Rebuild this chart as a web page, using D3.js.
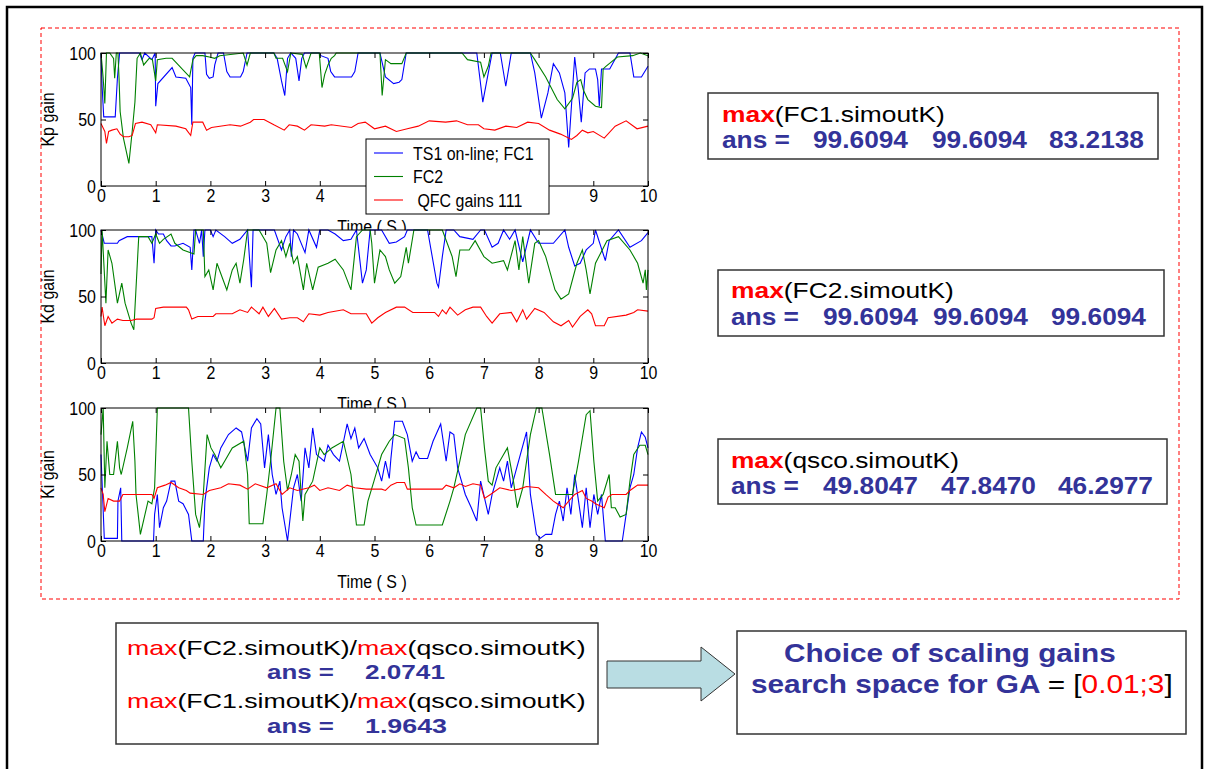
<!DOCTYPE html>
<html>
<head>
<meta charset="utf-8">
<script src="https://cdn.jsdelivr.net/npm/d3@7"></script>
<style>
  body { margin: 0; background: #fff; }
  svg { display: block; }
  text { font-family: "Liberation Sans", Arial, Helvetica, sans-serif; white-space: pre; }
</style>
</head>
<body>
<script>
// ---- data: [time (s), gain] ----
var kpFC1 = [[0,100],[0.02,75],[0.05,52],[0.26,52],[0.3,81],[0.34,100],[0.7,100],[0.75,95],[0.8,100],[0.93,95],[0.99,100],[1.0,60],[1.04,77],[1.3,89],[1.37,82],[1.55,81],[1.64,74],[1.66,46],[1.68,96],[1.72,100],[1.9,100],[1.93,84],[1.98,81],[2.05,82],[2.08,91],[2.14,100],[2.24,100],[2.3,86],[2.36,82],[2.55,82],[2.6,86],[2.67,100],[3.16,100],[3.22,96],[3.3,79],[3.36,68],[3.41,96],[3.47,100],[3.56,96],[3.62,79],[3.67,96],[3.72,100],[3.99,100],[4.02,98],[4.15,96],[4.2,86],[4.27,82],[4.58,82],[4.64,86],[4.7,100],[5.1,100],[5.2,82],[5.35,77],[5.45,78],[5.5,80],[5.58,100],[6.87,100],[6.98,63],[7.08,85],[7.15,100],[7.3,100],[7.4,75],[7.5,100],[7.85,100],[7.93,85],[8.05,51],[8.17,70],[8.27,92],[8.38,85],[8.48,70],[8.55,29],[8.66,97],[8.72,75],[8.78,48],[8.85,85],[8.93,88],[9.04,88],[9.08,80],[9.11,60],[9.15,88],[9.3,88],[9.46,100],[9.67,100],[9.74,82],[9.88,82],[10,90]];
var kpFC2 = [[0,100],[0.04,81],[0.07,62],[0.1,100],[0.16,100],[0.23,96],[0.25,81],[0.28,100],[0.31,100],[0.33,81],[0.35,56],[0.41,36],[0.51,17],[0.57,41],[0.62,63],[0.66,96],[0.72,100],[0.78,91],[0.88,96],[0.94,95],[1.0,79],[1.03,95],[1.19,96],[1.3,96],[1.37,93],[1.62,82],[1.68,95],[1.74,98],[1.86,98],[1.98,97],[2.08,96],[2.17,98],[2.6,100],[2.67,91],[2.73,100],[3.16,100],[3.2,96],[3.32,96],[3.41,86],[3.47,100],[3.68,99],[3.75,89],[3.84,100],[3.99,100],[4.04,74],[4.09,84],[4.15,91],[4.21,96],[4.27,98],[4.3,100],[5.1,100],[5.14,68],[5.2,95],[5.3,92],[5.5,92],[5.58,100],[6.6,100],[6.7,95],[6.94,93],[7.0,82],[7.08,90],[7.13,100],[7.85,100],[7.93,95],[8.13,82],[8.34,65],[8.48,58],[8.62,66],[8.7,78],[8.77,80],[8.82,72],[8.9,65],[9.04,60],[9.15,59],[9.18,88],[9.23,90],[9.44,97],[9.72,98],[9.86,100],[10,98]];
var kpQFC = [[0,47],[0.07,41],[0.1,32],[0.14,41],[0.2,42],[0.29,43],[0.35,39],[0.41,37],[0.51,37],[0.57,38],[0.63,47],[0.75,48],[0.91,46],[1.0,40],[1.03,46],[1.37,45],[1.55,43],[1.64,38],[1.68,48],[1.86,48],[1.93,42],[2.02,44],[2.36,46],[2.55,45],[2.73,48],[2.79,50],[2.98,50],[3.16,46],[3.35,42],[3.44,46],[3.59,45],[3.72,42],[3.84,46],[4.09,45],[4.21,46],[4.58,44],[4.7,47],[4.83,48],[5.0,43],[5.2,45],[5.4,41],[5.6,43],[5.8,45],[6.0,49],[6.3,48],[6.5,49],[6.7,46],[6.9,46],[7.0,43],[7.2,42],[7.4,45],[7.6,44],[7.8,48],[8.0,47],[8.2,42],[8.4,39],[8.6,35],[8.7,38],[8.8,42],[8.9,40],[9.0,41],[9.2,36],[9.4,45],[9.6,49],[9.8,43],[10,45]];

var kdFC1 = [[0,100],[0.06,90],[0.3,90],[0.33,92],[0.48,95],[0.93,95],[0.97,75],[1.0,100],[1.05,97],[1.14,97],[1.2,92],[1.28,88],[1.35,88],[1.5,90],[1.63,87],[1.66,70],[1.7,100],[1.73,100],[1.8,90],[1.84,100],[1.87,80],[1.9,100],[2.0,100],[2.05,95],[2.1,100],[2.26,95],[2.4,90],[2.54,93],[2.68,100],[2.75,57],[2.78,100],[3.17,100],[3.3,85],[3.38,95],[3.45,100],[3.48,80],[3.52,100],[3.59,97],[3.73,83],[3.8,100],[3.94,87],[4.0,100],[4.15,100],[4.28,97],[4.43,92],[4.57,93],[4.67,100],[4.78,60],[4.85,70],[4.92,100],[5.13,100],[5.27,90],[5.4,91],[5.55,95],[5.6,100],[5.97,100],[6.14,60],[6.17,57],[6.24,80],[6.31,100],[6.45,100],[6.56,95],[6.8,93],[6.94,100],[7.01,100],[7.15,87],[7.26,90],[7.36,100],[7.47,93],[7.57,100],[7.71,76],[7.85,100],[8.0,90],[8.27,90],[8.48,100],[8.55,87],[8.66,73],[8.76,75],[8.87,85],[9.0,90],[9.04,100],[9.22,77],[9.29,92],[9.46,100],[9.67,87],[9.88,92],[10,98]];
var kdFC2 = [[0,67],[0.02,100],[0.09,45],[0.13,85],[0.2,75],[0.3,45],[0.38,60],[0.44,45],[0.55,30],[0.6,25],[0.69,95],[0.86,95],[0.93,90],[1.0,97],[1.07,90],[1.14,93],[1.28,97],[1.35,90],[1.5,85],[1.7,82],[1.73,100],[1.87,100],[1.9,65],[1.97,70],[2.05,55],[2.12,75],[2.3,55],[2.4,70],[2.47,75],[2.54,60],[2.61,78],[2.68,100],[2.89,100],[3.03,90],[3.1,68],[3.2,85],[3.3,92],[3.38,80],[3.45,90],[3.52,75],[3.59,80],[3.7,55],[3.76,75],[3.87,55],[3.97,72],[4.15,75],[4.28,78],[4.43,70],[4.57,55],[4.67,95],[4.78,100],[4.92,100],[4.95,90],[5.0,60],[5.1,85],[5.2,80],[5.27,70],[5.37,60],[5.48,65],[5.58,87],[5.62,75],[5.72,100],[6.24,100],[6.42,80],[6.49,65],[6.56,85],[6.73,85],[6.84,92],[7.0,80],[7.15,75],[7.36,77],[7.43,70],[7.57,92],[7.64,70],[7.71,95],[7.82,60],[7.93,90],[8.0,92],[8.13,80],[8.3,55],[8.41,48],[8.55,52],[8.7,75],[8.8,85],[8.87,70],[8.94,52],[9.04,75],[9.25,92],[9.46,95],[9.67,85],[9.81,75],[9.91,60],[9.95,70],[9.97,55],[10,70]];
var kdQFC = [[0,35],[0.02,42],[0.07,28],[0.13,35],[0.2,30],[0.3,33],[0.4,32],[0.55,32],[0.65,33],[0.93,33],[0.97,34],[1.0,41],[1.14,42],[1.56,42],[1.6,40],[1.66,33],[1.77,35],[2.05,35],[2.1,37],[2.4,37],[2.54,40],[2.68,38],[2.75,42],[2.89,37],[2.96,42],[3.06,35],[3.17,41],[3.3,33],[3.45,34],[3.59,34],[3.7,31],[3.8,37],[4.0,36],[4.15,38],[4.43,40],[4.57,37],[4.85,37],[4.95,30],[5.06,34],[5.2,38],[5.4,42],[5.55,42],[5.7,38],[6.1,38],[6.17,35],[6.24,40],[6.31,37],[6.38,42],[6.52,36],[6.66,40],[6.8,42],[6.94,42],[7.05,35],[7.15,30],[7.29,37],[7.5,38],[7.6,31],[7.71,40],[7.78,33],[7.93,41],[8.1,38],[8.27,31],[8.41,28],[8.55,32],[8.62,27],[8.76,35],[8.9,40],[8.97,37],[9.04,28],[9.2,28],[9.27,34],[9.6,36],[9.74,38],[9.81,40],[10,39]];

var kiFC1 = [[0,65],[0.06,2],[0.3,2],[0.31,30],[0.36,40],[0.38,0],[0.96,0],[0.98,20],[1.03,35],[1.07,10],[1.14,25],[1.2,30],[1.28,45],[1.35,45],[1.42,30],[1.5,28],[1.6,20],[1.66,0],[1.87,0],[1.9,30],[1.98,55],[2.05,65],[2.12,60],[2.19,70],[2.33,80],[2.47,85],[2.57,82],[2.68,60],[2.75,85],[2.85,92],[2.92,88],[2.99,55],[3.06,80],[3.13,50],[3.2,35],[3.27,45],[3.31,25],[3.41,0],[3.52,40],[3.59,50],[3.66,30],[3.73,70],[3.8,55],[3.87,85],[3.94,65],[4.08,60],[4.15,72],[4.25,65],[4.36,60],[4.5,88],[4.57,77],[4.64,85],[4.71,70],[4.81,77],[4.92,65],[5.06,55],[5.13,45],[5.2,60],[5.27,47],[5.3,62],[5.37,90],[5.51,90],[5.6,80],[5.69,60],[5.76,67],[5.82,62],[5.97,62],[6.07,75],[6.21,88],[6.31,60],[6.38,82],[6.45,80],[6.52,55],[6.59,45],[6.66,35],[6.77,25],[6.87,15],[6.94,45],[7.08,20],[7.15,35],[7.22,45],[7.29,55],[7.36,45],[7.43,60],[7.5,40],[7.6,55],[7.78,82],[7.85,35],[7.96,5],[8.03,2],[8.13,5],[8.24,5],[8.31,20],[8.38,30],[8.45,15],[8.52,40],[8.59,20],[8.66,50],[8.73,30],[8.8,10],[8.87,40],[8.94,10],[9.01,35],[9.08,20],[9.15,35],[9.22,0],[9.53,0],[9.6,20],[9.67,40],[9.74,50],[9.81,70],[9.88,82],[9.95,78],[10,70]];
var kiFC2 = [[0,80],[0.04,100],[0.07,40],[0.11,75],[0.16,50],[0.23,50],[0.3,75],[0.34,55],[0.37,50],[0.48,70],[0.58,90],[0.62,60],[0.64,35],[0.72,5],[0.86,30],[0.93,28],[0.98,40],[1.03,100],[1.6,100],[1.66,60],[1.73,20],[1.8,10],[1.87,35],[1.94,80],[2.01,70],[2.08,65],[2.19,55],[2.26,60],[2.4,70],[2.61,75],[2.68,50],[2.71,13],[2.96,13],[3.03,35],[3.1,60],[3.2,100],[3.27,100],[3.34,60],[3.41,38],[3.48,50],[3.55,65],[3.62,60],[3.69,15],[3.73,35],[3.87,45],[4.0,70],[4.08,65],[4.22,70],[4.43,75],[4.57,50],[4.67,12],[4.81,12],[4.88,30],[4.99,45],[5.06,55],[5.13,65],[5.27,75],[5.37,80],[5.55,77],[5.62,55],[5.69,25],[5.76,12],[6.24,12],[6.38,30],[6.45,40],[6.56,60],[6.66,80],[6.87,100],[6.94,100],[7.01,70],[7.08,45],[7.15,42],[7.22,55],[7.36,65],[7.43,70],[7.54,45],[7.61,25],[7.71,40],[7.85,80],[7.96,100],[8.06,100],[8.2,65],[8.31,35],[8.62,35],[8.73,60],[8.87,95],[8.94,98],[9.01,60],[9.08,30],[9.18,35],[9.29,50],[9.33,25],[9.4,25],[9.49,18],[9.6,20],[9.67,45],[9.74,65],[9.85,72],[9.95,72],[10,65]];
var kiQFC = [[0,40],[0.04,35],[0.07,22],[0.13,32],[0.23,30],[0.34,30],[0.4,35],[0.93,35],[0.97,32],[1.03,40],[1.17,42],[1.28,44],[1.42,40],[1.56,38],[1.63,36],[1.87,35],[1.98,38],[2.19,40],[2.33,43],[2.54,42],[2.68,39],[2.82,43],[3.03,40],[3.2,43],[3.31,35],[3.45,40],[3.59,38],[3.8,40],[3.9,42],[4.0,38],[4.15,40],[4.36,38],[4.5,42],[4.64,40],[4.85,39],[5.13,39],[5.2,38],[5.3,42],[5.41,44],[5.55,44],[5.6,39],[6.24,39],[6.31,42],[6.45,40],[6.56,43],[6.66,41],[6.8,43],[6.94,42],[7.01,32],[7.12,35],[7.29,40],[7.5,38],[7.64,39],[7.78,41],[8.0,40],[8.13,35],[8.27,30],[8.34,28],[8.45,25],[8.55,30],[8.66,35],[8.8,38],[8.87,32],[8.97,30],[9.04,28],[9.2,25],[9.27,33],[9.34,35],[9.6,35],[9.67,38],[9.81,42],[10,42]];

var xTicks = [0,1,2,3,4,5,6,7,8,9,10];
var yTicks = [0,50,100];
var legendNames = ["TS1 on-line; FC1", "FC2", " QFC gains 111"];
var seriesColors = ["#0000ff", "#008000", "#ff0000"];

var panels = [
  {label: "Kp gain", top: 53,  series: [kpFC1, kpFC2, kpQFC], legend: true},
  {label: "Kd gain", top: 230, series: [kdFC1, kdFC2, kdQFC]},
  {label: "Ki gain", top: 408, series: [kiFC1, kiFC2, kiQFC]}
];

var RED = "#ff0000", BLUE = "#333399", BLACK = "#000";
var legendBox = {x: 366, y: 139, w: 183, h: 75};

var svg = d3.select("body").append("svg").attr("width", 1205).attr("height", 769);

// slide frame and dashed group box
svg.append("rect").attr("x", 7).attr("y", 7).attr("width", 1195).attr("height", 800)
  .attr("fill", "none").attr("stroke", "#000").attr("stroke-width", 2.5);
svg.append("rect").attr("x", 41).attr("y", 28).attr("width", 1138).attr("height", 571)
  .attr("fill", "none").attr("stroke", "#ff0000").attr("stroke-width", 1).attr("stroke-dasharray", "4,3");

// matlab-ish text: taller than wide
function mtext(g, x, y, str, anchor, rot) {
  return g.append("text")
    .attr("transform", "translate(" + x + "," + y + ")" + (rot ? "rotate(" + rot + ")" : "") + "scale(0.84,1)")
    .attr("text-anchor", anchor).attr("font-size", 19).attr("fill", "#000").text(str);
}

var plotW = [101, 648], plotH = 133;
var x = d3.scaleLinear().domain([0, 10]).range(plotW);

panels.forEach(function(p, i) {
  var g = svg.append("g");
  var y = d3.scaleLinear().domain([0, 100]).range([p.top + plotH, p.top]);

  g.append("rect").attr("x", plotW[0]).attr("y", p.top)
    .attr("width", plotW[1] - plotW[0]).attr("height", plotH).attr("fill", "#fff");

  var line = d3.line().x(function(d) { return x(d[0]); }).y(function(d) { return y(d[1]); });
  p.series.forEach(function(s, k) {
    g.append("path").datum(s).attr("d", line)
      .attr("fill", "none").attr("stroke", seriesColors[k]).attr("stroke-width", 1.1);
  });

  var styleAxis = function(a) {
    a.select(".domain").remove();
    a.selectAll("line").attr("stroke", "#000");
    a.selectAll("text").attr("font-size", 19).attr("font-family", null).attr("transform", "scale(0.84,1)");
  };
  var bx = g.append("g").attr("transform", "translate(0," + (p.top + plotH) + ")")
    .call(d3.axisBottom(x).tickValues(xTicks).tickSize(-5).tickSizeOuter(0).tickPadding(3).tickFormat(d3.format("d")))
    .call(styleAxis);
  if (p.legend) {
    // tick labels that sit under the legend are hidden in the figure
    bx.selectAll(".tick text").filter(function(d) {
      return x(d) > legendBox.x && x(d) < legendBox.x + legendBox.w;
    }).remove();
  }
  g.append("g").attr("transform", "translate(0," + p.top + ")")
    .call(d3.axisTop(x).tickValues(xTicks).tickSize(-5).tickSizeOuter(0).tickFormat(""))
    .call(styleAxis);
  g.append("g").attr("transform", "translate(" + plotW[0] + ",0)")
    .call(d3.axisLeft(y).tickValues(yTicks).tickSize(-5).tickSizeOuter(0).tickPadding(6))
    .call(styleAxis);
  g.append("g").attr("transform", "translate(" + plotW[1] + ",0)")
    .call(d3.axisRight(y).tickValues(yTicks).tickSize(-5).tickSizeOuter(0).tickFormat(""))
    .call(styleAxis);

  g.append("rect").attr("x", plotW[0]).attr("y", p.top)
    .attr("width", plotW[1] - plotW[0]).attr("height", plotH)
    .attr("fill", "none").attr("stroke", "#000").attr("stroke-width", 1);

  mtext(g, 54, p.top + plotH / 2, p.label, "middle", -90);
  mtext(g, 372, p.top + plotH + 47, "Time ( S )", "middle");
});

// legend of the first panel (drawn over everything)
var lg = svg.append("g");
lg.append("rect").attr("x", legendBox.x).attr("y", legendBox.y).attr("width", legendBox.w).attr("height", legendBox.h)
  .attr("fill", "#fff").attr("stroke", "#000").attr("stroke-width", 1);
legendNames.forEach(function(n, k) {
  var ly = 153 + k * 23.5;
  lg.append("line").attr("x1", 374).attr("x2", 403).attr("y1", ly).attr("y2", ly)
    .attr("stroke", seriesColors[k]).attr("stroke-width", 1.1);
  mtext(lg, 413, ly + 6.5, n, "start");
});

// annotation text, stretched horizontally to the measured width
function rich(x0, y0, w, size, parts) {
  var t = svg.append("text").attr("font-size", size);
  parts.forEach(function(p) {
    t.append("tspan").attr("fill", p[1]).attr("font-weight", p[2] || "normal").text(p[0]);
  });
  var len = t.node().getComputedTextLength();
  t.attr("transform", "translate(" + x0 + "," + y0 + ") scale(" + (w / len) + ",1)");
}
function box(x0, y0, x1, y1) {
  svg.append("rect").attr("x", x0).attr("y", y0).attr("width", x1 - x0).attr("height", y1 - y0)
    .attr("fill", "#fff").attr("stroke", "#333").attr("stroke-width", 1.5);
}

var maxBoxes = [
  {name: "(FC1.simoutK)", vals: ["99.6094", "99.6094", "83.2138"], r: [708, 93, 1158, 159], tx: 722, w1: 223, b1: 122, b2: 148, vx: [813, 932, 1049]},
  {name: "(FC2.simoutK)", vals: ["99.6094", "99.6094", "99.6094"], r: [718, 270, 1164, 336], tx: 731, w1: 223, b1: 298, b2: 325, vx: [823, 933, 1051]},
  {name: "(qsco.simoutK)", vals: ["49.8047", "47.8470", "46.2977"], r: [718, 439, 1167, 504], tx: 731, w1: 228, b1: 468, b2: 494, vx: [823, 941, 1058]}
];
maxBoxes.forEach(function(b) {
  box(b.r[0], b.r[1], b.r[2], b.r[3]);
  rich(b.tx, b.b1, b.w1, 22, [["max", RED, "bold"], [b.name, BLACK]]);
  rich(b.tx, b.b2, 68, 23, [["ans =", BLUE, "bold"]]);
  b.vals.forEach(function(v, k) { rich(b.vx[k], b.b2, 95, 23, [[v, BLUE, "bold"]]); });
});

// ratio box
box(116, 623, 598, 744);
rich(127, 655, 459, 21, [["max", RED], ["(FC2.simoutK)/", BLACK], ["max", RED], ["(qsco.simoutK)", BLACK]]);
rich(267, 679, 67, 20, [["ans =", BLUE, "bold"]]);
rich(365, 679, 80, 20, [["2.0741", BLUE, "bold"]]);
rich(127, 708, 459, 21, [["max", RED], ["(FC1.simoutK)/", BLACK], ["max", RED], ["(qsco.simoutK)", BLACK]]);
rich(267, 733, 67, 20, [["ans =", BLUE, "bold"]]);
rich(365, 733, 82, 20, [["1.9643", BLUE, "bold"]]);

// arrow
svg.append("path")
  .attr("d", "M607,661 L701,661 L701,647 L735,674 L701,701 L701,688 L607,688 Z")
  .attr("fill", "#b9dde3").attr("stroke", "#333").attr("stroke-width", 1);

// conclusion box
box(737, 631, 1186, 734);
rich(784, 662, 332, 26, [["Choice of scaling gains", BLUE, "bold"]]);
rich(751, 693, 422, 26, [["search space for GA ", BLUE, "bold"], ["= [", BLACK], ["0.01;3", RED], ["]", BLACK]]);
</script>
</body>
</html>
